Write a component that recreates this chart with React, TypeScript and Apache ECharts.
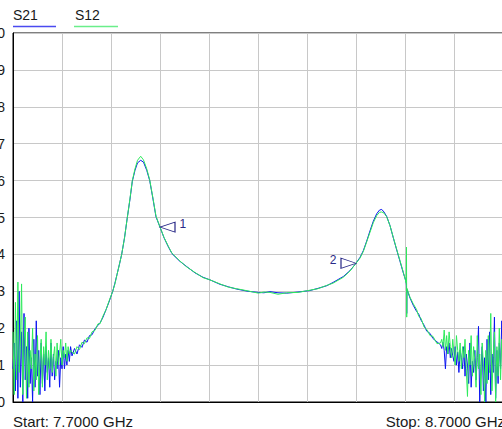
import React, { useEffect, useRef } from "react";
import * as echarts from "echarts";

// ---- data ----
const xMin = 7.7;
const xMax = 8.7;
const xStep = 0.1;
const yTicks = [0, 1, 2, 3, 4, 5, 6, 7, 8, 9, 10];

const noiseStep = 0.0025;
const leftNoiseStart = 7.7;
const s21LeftNoise = [
  0.9, 1.6, 0.3, 2.2, 0.1, 3.0, 0.4, 1.9, 0.0, 2.4,
  0.6, 1.5, 0.1, 2.0, 0.5, 1.2, 0.0, 1.7, 0.4, 2.2,
  0.7, 1.4, 0.2, 1.6, 0.5, 1.3, 0.3, 1.5, 0.8, 1.2,
  0.4, 1.6, 0.7, 1.3, 0.6, 1.1, 0.9, 1.4, 0.4, 1.2,
  0.9, 1.5, 0.9, 1.3, 1.0, 1.4, 1.1, 1.5,
];
const s12LeftNoise = [
  1.9, 0.2, 2.7, 0.6, 3.25, 0.8, 1.5, 3.2, 0.2, 1.6,
  2.3, 0.1, 1.9, 0.4, 1.4, 0.9, 2.0, 0.3, 1.3, 0.6,
  1.8, 0.2, 1.1, 1.7, 0.4, 1.5, 1.0, 1.9, 0.6, 1.4,
  0.9, 1.7, 0.8, 1.2, 1.5, 0.7, 1.6, 1.0, 1.3, 1.7,
  1.0, 1.4, 1.2, 1.6, 1.1, 1.5, 1.3, 1.4,
];

const midFreqs = [
  7.8204, 7.8255, 7.8306, 7.8357, 7.8408, 7.8459, 7.851, 7.8561, 7.8612, 7.8673,
  7.8735, 7.8776, 7.8837, 7.8898, 7.8967, 7.9035, 7.908, 7.9122, 7.917, 7.9218,
  7.9276, 7.9333, 7.9388, 7.9435, 7.949, 7.9541, 7.9606, 7.9663, 7.9729, 7.979,
  7.9857, 7.9918, 8.0, 8.0082, 8.0169, 8.0245, 8.0408, 8.0545, 8.0714, 8.0878,
  8.102, 8.1224, 8.14, 8.1565, 8.1796, 8.2006, 8.212, 8.2245, 8.2408, 8.2586,
  8.2816, 8.3061, 8.3224, 8.3402, 8.3531, 8.3741, 8.3878, 8.4, 8.4082, 8.4149,
  8.4218, 8.4286, 8.4353, 8.4422, 8.4479, 8.4524, 8.4571, 8.4626, 8.4694, 8.4761,
  8.4831, 8.4898, 8.4965, 8.5025, 8.503, 8.5035, 8.504, 8.5102, 8.5169, 8.5239,
  8.528, 8.5327, 8.539, 8.5443, 8.551, 8.5571, 8.5653,
];
const s21Mid = [
  1.25, 1.45, 1.3, 1.55, 1.48, 1.68, 1.62, 1.8, 1.82, 1.98,
  2.08, 2.14, 2.3, 2.5, 2.74, 3.0, 3.22, 3.45, 3.72, 4.0,
  4.45, 5.0, 5.5, 5.98, 6.28, 6.48, 6.55, 6.5, 6.28, 6.0,
  5.5, 5.02, 4.74, 4.45, 4.21, 4.02, 3.81, 3.67, 3.5, 3.38,
  3.31, 3.19, 3.12, 3.06, 3.0, 2.97, 2.96, 2.99, 2.96, 2.95,
  2.98, 3.02, 3.08, 3.15, 3.24, 3.4, 3.56, 3.76, 3.92, 4.1,
  4.36, 4.64, 4.9, 5.1, 5.2, 5.22, 5.15, 5.03, 4.78, 4.45,
  4.12, 3.81, 3.5, 3.25, 3.15, 2.4, 3.05, 2.82, 2.62, 2.45,
  2.38, 2.22, 2.08, 1.92, 1.86, 1.72, 1.63,
];
const s12Mid = [
  1.35, 1.3, 1.5, 1.42, 1.62, 1.58, 1.74, 1.72, 1.9, 1.94,
  2.12, 2.12, 2.33, 2.5, 2.76, 3.0, 3.2, 3.45, 3.72, 4.0,
  4.45, 5.0, 5.52, 6.0, 6.32, 6.55, 6.66, 6.56, 6.32, 6.02,
  5.52, 5.04, 4.74, 4.46, 4.22, 4.03, 3.82, 3.66, 3.51, 3.37,
  3.31, 3.2, 3.11, 3.07, 3.01, 2.95, 2.98, 2.97, 2.92, 2.96,
  2.97, 3.03, 3.07, 3.16, 3.22, 3.38, 3.55, 3.76, 3.9, 4.08,
  4.34, 4.6, 4.86, 5.05, 5.14, 5.15, 5.12, 5.02, 4.78, 4.46,
  4.13, 3.83, 3.52, 3.22, 4.2, 2.3, 3.08, 2.84, 2.66, 2.5,
  2.32, 2.27, 2.03, 1.97, 1.8, 1.78, 1.58,
];

const rightNoiseStart = 8.5725;
const s21RightNoise = [
  1.55, 1.45, 1.62, 1.4, 0.9, 1.5, 1.3, 1.6, 1.2, 1.45,
  1.25, 1.1, 1.5, 1.0, 1.35, 0.8, 1.4, 1.2, 0.9, 1.5,
  0.7, 1.3, 1.0, 0.5, 1.6, 0.4, 1.1, 0.8, 1.4, 0.6,
  1.2, 2.05, 0.0, 0.9, 1.5, 0.3, 1.2, 0.0, 1.7, 0.6,
  1.9, 0.2, 1.3, 0.8, 2.3, 0.1, 1.4, 0.5, 1.6, 0.9,
  2.2, 1.0,
];
const s12RightNoise = [
  1.6, 1.7, 1.5, 1.95, 1.4, 1.8, 1.3, 1.9, 1.5, 1.2,
  1.7, 1.3, 1.0, 1.8, 1.4, 1.1, 1.6, 0.9, 1.5, 1.2,
  1.7, 0.9, 0.15, 1.4, 1.0, 1.8, 0.7, 1.5, 1.1, 0.4,
  1.8, 0.9, 1.3, 0.2, 1.6, 1.0, 0.0, 1.4, 0.5, 1.8,
  0.8, 2.4, 0.3, 1.2, 1.9, 0.0, 1.5, 0.7, 2.0, 0.6,
  1.7, 1.1,
];

const markers = [
  { name: "1", freq: 8.0, value: 4.74, side: "right" },
  { name: "2", freq: 8.4, value: 3.76, side: "left" },
];

const seriesNames = ["S21", "S12"];
const startLabel = "Start: 7.7000 GHz";
const stopLabel = "Stop: 8.7000 GHz";

// ---- build ----
function build(left: number[], mid: number[], right: number[]) {
  const pts: number[][] = [];
  left.forEach((v, i) => pts.push([+(leftNoiseStart + i * noiseStep).toFixed(4), v]));
  mid.forEach((v, i) => pts.push([midFreqs[i], v]));
  right.forEach((v, i) => pts.push([+(rightNoiseStart + i * noiseStep).toFixed(4), v]));
  return pts;
}

const BLUE = "#0a14f0";
const GREEN = "#2eea5c";
const NAVY = "#2a2a88";
const OFF = 30; // container shifted left by this many px
const FONT = "Arial, 'Liberation Sans', sans-serif";

export default function App() {
  const ref = useRef<HTMLDivElement>(null);
  useEffect(() => {
    if (!ref.current) return;
    const chart = echarts.init(ref.current, undefined, { renderer: "svg" });
    const markData = markers.map((m) => ({
      coord: [m.freq, m.value],
      symbol: m.side === "right" ? "path://M0,5L15,0L15,10Z" : "path://M15,5L0,0L0,10Z",
      symbolSize: [15, 10],
      symbolOffset: [m.side === "right" ? 7.5 : -7.5, 0],
      label: {
        show: true,
        formatter: m.name,
        position: m.side,
        distance: 4,
        offset: [0, -3],
        color: NAVY,
        fontSize: 12,
        fontFamily: FONT,
      },
    }));
    chart.setOption({
      animation: false,
      backgroundColor: "#ffffff",
      grid: {
        left: 13 + OFF,
        top: 33,
        right: 7,
        bottom: 27,
        show: true,
        borderColor: "#000",
        borderWidth: 1,
      },
      xAxis: {
        type: "value",
        min: xMin,
        max: xMax,
        interval: xStep,
        axisLabel: { show: false },
        axisTick: { show: false },
        axisLine: { show: true, lineStyle: { color: "#000", width: 1 } },
        splitLine: { show: true, lineStyle: { color: "#c8c8c8", width: 1 } },
      },
      yAxis: {
        type: "value",
        min: yTicks[0],
        max: yTicks[yTicks.length - 1],
        interval: 1,
        axisLabel: {
          show: true,
          color: "#1a1a1a",
          fontSize: 14,
          fontFamily: FONT,
          margin: 8,
        },
        axisTick: { show: false },
        axisLine: { show: true, lineStyle: { color: "#000", width: 1 } },
        splitLine: { show: true, lineStyle: { color: "#c8c8c8", width: 1 } },
      },
      series: [
        {
          name: seriesNames[0],
          type: "line",
          data: build(s21LeftNoise, s21Mid, s21RightNoise),
          showSymbol: false,
          symbol: "none",
          lineStyle: { color: BLUE, width: 1 },
          itemStyle: { color: BLUE },
          z: 2,
          markPoint: {
            data: markData,
            itemStyle: { color: "rgba(0,0,0,0)", borderColor: NAVY, borderWidth: 1 },
            z: 5,
          },
        },
        {
          name: seriesNames[1],
          type: "line",
          data: build(s12LeftNoise, s12Mid, s12RightNoise),
          showSymbol: false,
          symbol: "none",
          lineStyle: { color: GREEN, width: 1 },
          itemStyle: { color: GREEN },
          z: 3,
        },
      ],
      graphic: [
        {
          type: "text",
          left: 13 + OFF,
          top: 8,
          style: { text: seriesNames[0], fill: "#1a1a1a", fontSize: 14, fontFamily: FONT },
        },
        {
          type: "line",
          shape: { x1: 13 + OFF, y1: 26.5, x2: 56 + OFF, y2: 26.5 },
          style: { stroke: "#4a4af0", lineWidth: 1.5 },
        },
        {
          type: "text",
          left: 75 + OFF,
          top: 8,
          style: { text: seriesNames[1], fill: "#1a1a1a", fontSize: 14, fontFamily: FONT },
        },
        {
          type: "line",
          shape: { x1: 74 + OFF, y1: 26.5, x2: 118 + OFF, y2: 26.5 },
          style: { stroke: "#6aee8a", lineWidth: 1.5 },
        },
        {
          type: "text",
          x: 13 + OFF,
          y: 421,
          style: {
            text: startLabel,
            fill: "#1a1a1a",
            fontSize: 15,
            fontFamily: FONT,
            textVerticalAlign: "middle",
            verticalAlign: "middle",
          },
        },
        {
          type: "text",
          x: 505 + OFF,
          y: 421,
          style: {
            text: stopLabel,
            fill: "#1a1a1a",
            fontSize: 15,
            fontFamily: FONT,
            textAlign: "right",
            align: "right",
            textVerticalAlign: "middle",
            verticalAlign: "middle",
          },
        },
      ],
    });
    return () => chart.dispose();
  }, []);
  return (
    <div
      ref={ref}
      style={{ position: "absolute", left: -OFF, top: 0, width: 540, height: 429 }}
    />
  );
}
